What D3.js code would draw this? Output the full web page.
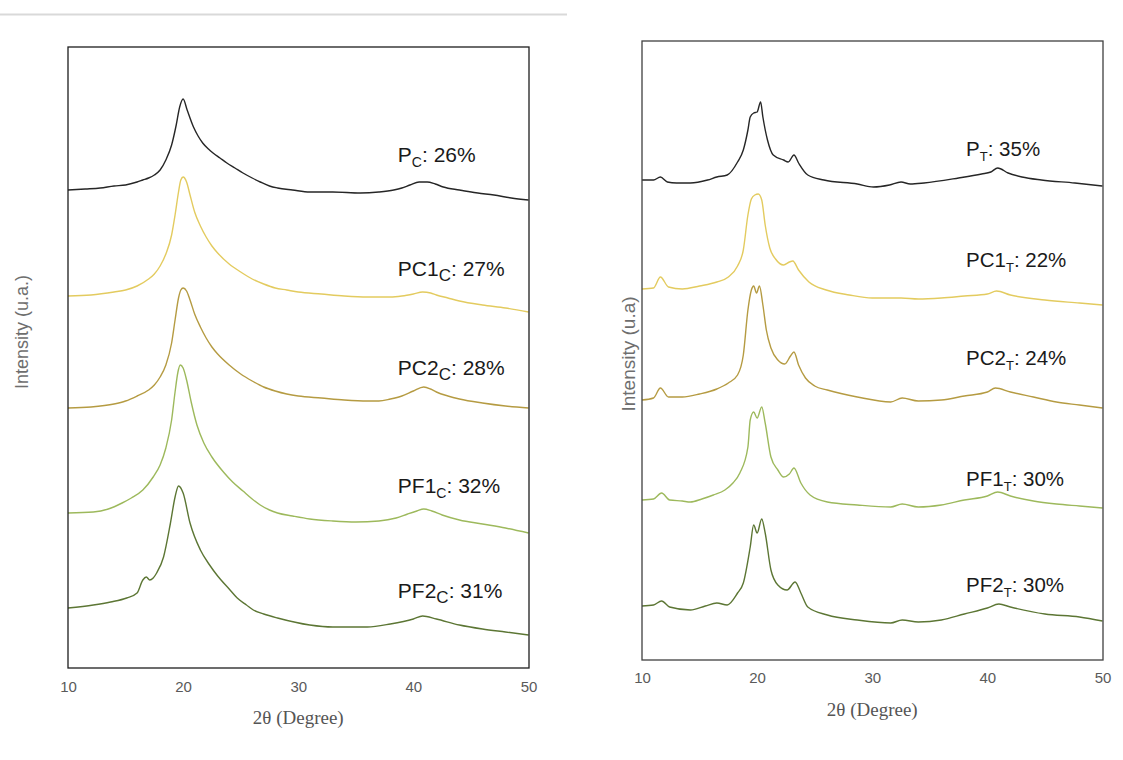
<!DOCTYPE html>
<html>
<head>
<meta charset="utf-8">
<script src="https://cdn.jsdelivr.net/npm/d3@7"></script>
<style>
  body { margin: 0; background: #fff; }
  svg { display: block; }
</style>
</head>
<body>
<svg id="chart" width="1123" height="760"></svg>
<script>
// ---- X-ray diffraction patterns: [2θ (degree), stacked intensity (a.u.)] ----
const thetaTicks = [10, 20, 30, 40, 50];

// Left panel: "C" samples
const pC = [[10,478],[11.5,479],[12.8,480],[14,482],[15,483],[16,486],[16.5,488],[17,490],[17.5,493],[18,498],[18.5,508],[19,523],[19.4,543],[19.7,561],[20,569],[20.35,558],[20.9,541],[21.3,532],[21.7,525],[22.2,519],[22.6,515],[23.2,510],[23.8,505],[24.5,500],[25.2,495],[26,490],[26.7,486],[27.5,482],[28.2,480],[29.5,478],[31,476],[33,476],[35.4,475],[37,476],[38.3,478],[39,480],[39.7,483],[40.5,486],[41.2,486],[41.9,484],[42.6,481],[44,478],[45.6,475],[47,473],[48.5,470],[50,468]];
const pc1C = [[10,372],[12,373],[14,376],[15,378],[16,382],[17,389],[17.5,394],[18,402],[18.5,414],[19,433],[19.3,453],[19.6,476],[19.8,488],[20,491],[20.3,486],[20.6,473],[21,456],[21.5,442],[22,431],[22.5,422],[23,415],[24,404],[25,396],[26,389],[27,384],[28,380],[29,378],[30,376],[32,374],[34,372],[36,371],[38,371],[39,372],[40,374],[40.8,376],[41.5,375],[42,373],[43,370],[44,367],[46,363],[48,360],[50,356]];
const pc2C = [[10,260],[12,261],[14,264],[15,267],[16,272],[17,278],[17.5,283],[18,291],[18.5,303],[19,325],[19.3,348],[19.6,370],[19.8,378],[20,380],[20.3,377],[20.6,368],[21,354],[21.5,341],[22,330],[22.5,321],[23,314],[24,303],[25,294],[26,287],[27,281],[28,277],[29,274],[30,272],[32,270],[34,268],[36,267],[37,267],[38,269],[39,272],[40,277],[40.9,281],[41.5,279],[42,276],[43,272],[44,269],[46,265],[48,262],[50,260]];
const pf1C = [[10,155],[12.2,156],[13.5,159],[14.7,165],[15.5,170],[16.5,178],[17.4,191],[18,203],[18.5,220],[19,248],[19.3,276],[19.55,296],[19.75,303],[20,300],[20.3,288],[20.7,266],[21.2,243],[21.8,225],[22.5,211],[23.5,196],[24.3,186],[25.2,177],[26,169],[26.7,163],[27.5,158],[28.2,155],[29.5,152],[31,149],[33,147],[35,146],[37,147],[38.5,150],[39.5,154],[40.3,157],[40.9,159],[41.6,157],[42.5,153],[44,148],[46,144],[48,140],[50,135]];
const pf2C = [[10,60],[12.2,63],[13.7,66],[15.1,70],[16,75],[16.5,88],[16.8,91],[17.1,88],[17.4,90],[17.7,95],[18.3,111],[18.9,145],[19.3,171],[19.6,182],[20,175],[20.6,145],[21.5,118],[22.3,103],[23,92],[24,79],[24.7,70],[25.5,63],[26.1,58],[27,54],[28.2,50],[31,43],[33,41],[36,41],[38,44],[40,49],[40.8,52],[42,49],[44,43],[46,39],[48,36],[50,33]];

// Right panel: "T" samples
const pT = [[10,480],[11,480],[11.6,483],[12.2,478],[13,477],[14.2,477],[15.7,480],[16.5,483],[17.4,485],[18.3,498],[18.8,510],[19.2,530],[19.4,543],[19.7,547],[20,548],[20.3,558],[20.5,543],[20.9,520],[21.4,505],[22.3,500],[22.7,498],[23.2,505],[23.6,497],[24.4,485],[25.8,480],[28.7,476],[30.1,473],[31.5,475],[32.5,478],[33.3,476],[34.5,477],[37.5,482],[39.5,486],[40.3,488],[40.9,492],[41.8,487],[43,483],[44.7,480],[47.6,477],[50,474]];
const pc1T = [[10,371],[11,372],[11.6,383],[12.3,373],[13.5,371],[15,374],[16.5,378],[17.5,383],[18.3,394],[18.8,410],[19.2,445],[19.5,461],[19.8,465],[20.1,466],[20.4,460],[20.7,435],[21.1,412],[21.6,401],[22.3,395],[22.8,398],[23.1,399],[23.6,390],[24.5,378],[26,370],[28,365],[30,362],[32.5,362],[34,361],[36,362],[38,364],[40,366],[40.8,369],[42,365],[45,360],[48,357],[50,355]];
const pc2T = [[10,260],[11,262],[11.6,272],[12.3,263],[13.5,263],[15,266],[16.5,271],[17.5,277],[18.3,285],[18.8,305],[19.2,350],[19.5,370],[19.7,374],[19.95,367],[20.2,374],[20.5,355],[20.8,330],[21.2,312],[21.8,300],[22.4,296],[22.9,304],[23.2,308],[23.6,295],[24.2,282],[25,274],[26.1,270],[28.7,263],[31.6,258],[32.6,262],[34,259],[36,260],[38,264],[40,268],[40.7,272],[42,268],[44,263],[46,258],[48,255],[50,252]];
const pf1T = [[10,160],[11,161],[11.7,167],[12.4,160],[13.5,159],[14.2,158],[15.2,161],[16.2,165],[17.2,170],[17.9,177],[18.5,187],[19.2,213],[19.4,240],[19.7,248],[20,242],[20.4,253],[20.7,237],[21.2,203],[21.8,190],[22.3,183],[22.8,186],[23.2,192],[23.8,177],[24.6,165],[26.1,158],[28.7,155],[31.6,153],[32.6,156],[34,153],[36,155],[38,160],[40,164],[40.9,168],[42,164],[44,159],[46,156],[48,154],[50,152]];
const pf2T = [[10,54],[11,55],[11.7,59],[12.4,53],[14.2,50],[15.5,54],[16.5,57],[17.4,55],[18.3,67],[18.8,77],[19.4,113],[19.7,135],[20,127],[20.4,141],[20.7,127],[21.2,90],[21.8,75],[22.6,70],[23.3,78],[23.8,67],[24.4,53],[26.1,45],[28.7,40],[31.6,37],[32.6,40],[34,38],[36,40],[38,46],[40,52],[41,56],[42,53],[45,46],[48,43],[50,39]];

// Sample names, subscripts and crystallinity
const leftNames  = ["P", "PC1", "PC2", "PF1", "PF2"];
const leftSubs   = ["C", "C", "C", "C", "C"];
const leftPct    = ["26%", "27%", "28%", "32%", "31%"];
const rightNames = ["P", "PC1", "PC2", "PF1", "PF2"];
const rightSubs  = ["T", "T", "T", "T", "T"];
const rightPct   = ["35%", "22%", "24%", "30%", "30%"];

// ---- styling ----
const lineColors = ["#262626", "#e3cb5f", "#b59b42", "#9db95c", "#5c7634"];
const subSizes   = { left: [14, 17, 17, 14, 17], right: [13, 13, 13, 13, 13] };

const svg = d3.select("#chart");
svg.append("rect").attr("width", 1123).attr("height", 760).attr("fill", "#fff");

// thin rule across the top of the page
svg.append("line")
  .attr("x1", 0).attr("x2", 567).attr("y1", 14.5).attr("y2", 14.5)
  .attr("stroke", "#d9d9d9").attr("stroke-width", 2);

const panels = [
  {
    frame: { x0: 68, x1: 529, y0: 47, y1: 668 }, yMax: 621, frameColor: "#1e1e1e",
    series: [pC, pc1C, pc2C, pf1C, pf2C], names: leftNames, subs: leftSubs, pct: leftPct,
    subSize: subSizes.left, labelTheta: 38.65, labelBase: [162, 276, 375, 493, 598],
    fontSize: 21, tickY: 693, titleY: 724, yTitle: "Intensity (u.a.)", yTitleX: 22, yTitleY: 332, yTitleSize: 18
  },
  {
    frame: { x0: 642, x1: 1103, y0: 41, y1: 660 }, yMax: 619, frameColor: "#404040",
    series: [pT, pc1T, pc2T, pf1T, pf2T], names: rightNames, subs: rightSubs, pct: rightPct,
    subSize: subSizes.right, labelTheta: 38.15, labelBase: [156, 267, 365, 486, 592],
    fontSize: 20.5, tickY: 684, titleY: 716, yTitle: "Intensity (u.a)", yTitleX: 628, yTitleY: 354, yTitleSize: 19
  }
];

panels.forEach(p => {
  const f = p.frame;
  const x = d3.scaleLinear().domain([10, 50]).range([f.x0, f.x1 - 0.5]);
  const y = d3.scaleLinear().domain([0, p.yMax]).range([f.y1, f.y0]);
  const g = svg.append("g");

  // diffraction curves
  const line = d3.line().x(d => x(d[0])).y(d => y(d[1])).curve(d3.curveMonotoneX);
  p.series.forEach((s, i) => {
    g.append("path").datum(s)
      .attr("d", line)
      .attr("fill", "none")
      .attr("stroke", lineColors[i])
      .attr("stroke-width", 1.4)
      .attr("stroke-linejoin", "round");
  });

  // plot frame
  g.append("rect")
    .attr("x", f.x0).attr("y", f.y0)
    .attr("width", f.x1 - f.x0).attr("height", f.y1 - f.y0)
    .attr("fill", "none").attr("stroke", p.frameColor).attr("stroke-width", 1.3);

  // x axis tick labels (no tick marks)
  const xAxis = d3.axisBottom(x).tickValues(thetaTicks).tickSize(0).tickPadding(0);
  const ax = g.append("g").attr("transform", `translate(0,${p.tickY - 12})`).call(xAxis);
  ax.select(".domain").remove();
  ax.selectAll("text")
    .attr("font-family", "'Liberation Sans', Arial, sans-serif")
    .attr("font-size", 15).attr("fill", "#5a5a5a");

  // x axis title
  g.append("text")
    .attr("x", x(30)).attr("y", p.titleY)
    .attr("text-anchor", "middle")
    .attr("font-family", "'Liberation Serif', 'Times New Roman', serif")
    .attr("font-size", 19).attr("fill", "#555")
    .text("2θ (Degree)");

  // y axis title
  g.append("text")
    .attr("transform", `translate(${p.yTitleX},${p.yTitleY}) rotate(-90)`)
    .attr("text-anchor", "middle").attr("dy", "0.35em")
    .attr("font-family", "'Liberation Sans', Arial, sans-serif")
    .attr("font-size", p.yTitleSize).attr("fill", "#6e6e6e")
    .text(p.yTitle);

  // sample labels with crystallinity index
  p.names.forEach((n, i) => {
    const t = g.append("text")
      .attr("x", x(p.labelTheta)).attr("y", p.labelBase[i])
      .attr("font-family", "'Liberation Sans', Arial, sans-serif")
      .attr("font-size", p.fontSize).attr("fill", "#1a1a1a");
    t.append("tspan").text(n);
    t.append("tspan").attr("font-size", p.subSize[i]).attr("dy", 5).text(p.subs[i]);
    t.append("tspan").attr("dy", -5).text(": " + p.pct[i]);
  });
});
</script>
</body>
</html>
